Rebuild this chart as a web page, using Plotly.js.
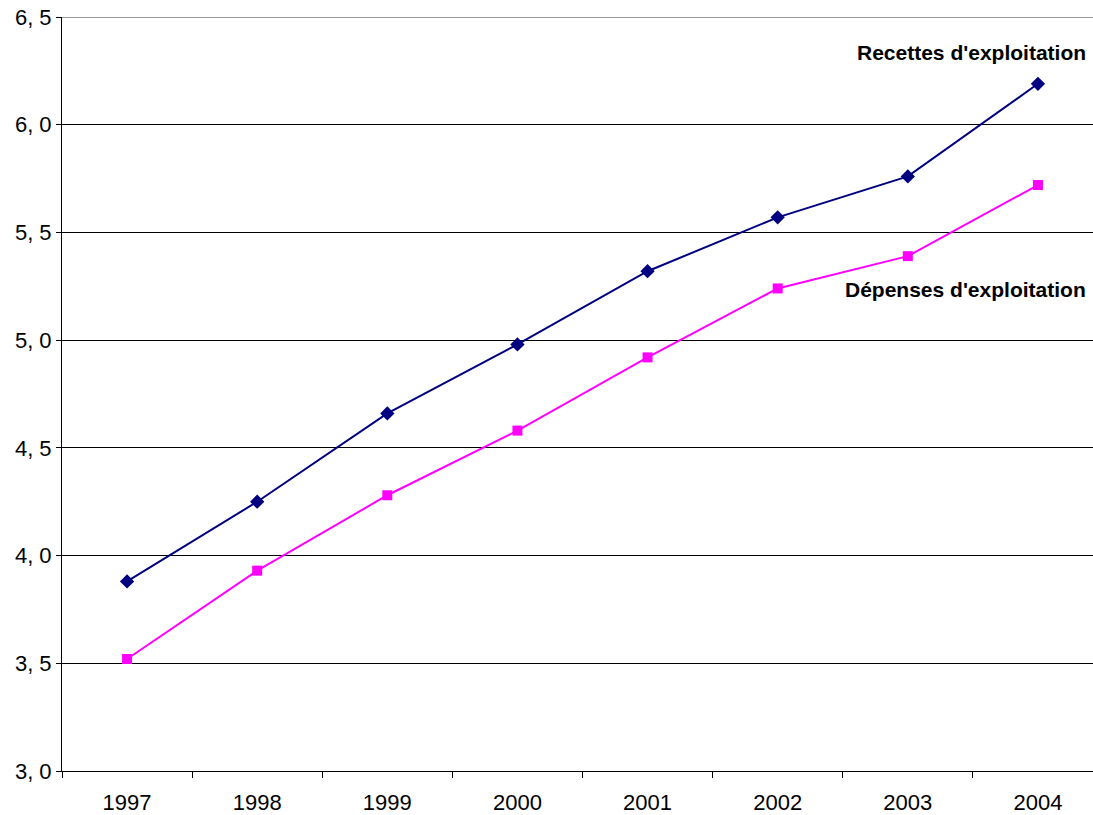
<!DOCTYPE html>
<html>
<head>
<meta charset="utf-8">
<script src="https://cdn.plot.ly/plotly-3.0.1.min.js"></script>
<style>
html,body{margin:0;padding:0;overflow:hidden;background:#fff;}
#chart{width:1103px;height:815px;}
</style>
</head>
<body>
<div id="chart"></div>
<script>
var years = ['1997','1998','1999','2000','2001','2002','2003','2004'];
var recettes = [3.88, 4.25, 4.66, 4.98, 5.32, 5.57, 5.76, 6.19];
var depenses = [3.52, 3.93, 4.28, 4.58, 4.92, 5.24, 5.39, 5.72];
var yTickVals = [3.0, 3.5, 4.0, 4.5, 5.0, 5.5, 6.0, 6.5];
var yTickText = ['3, 0','3, 5','4, 0','4, 5','5, 0','5, 5','6, 0','6, 5'];
var labelRecettes = "Recettes d'exploitation";
var labelDepenses = "Dépenses d'exploitation";

var tickFont = {family: 'Liberation Sans, Arial, sans-serif', size: 22, color: '#000'};

var traces = [
  {x: years, y: recettes, type: 'scatter', mode: 'lines+markers', name: labelRecettes,
   line: {color: '#000080', width: 2}, marker: {symbol: 'diamond', size: 11, color: '#000080'}},
  {x: years, y: depenses, type: 'scatter', mode: 'lines+markers', name: labelDepenses,
   line: {color: '#FF00FF', width: 2}, marker: {symbol: 'square', size: 10, color: '#FF00FF'}}
];

var layout = {
  width: 1103, height: 815,
  margin: {l: 62, r: 0, t: 17, b: 44},
  paper_bgcolor: '#fff', plot_bgcolor: '#fff',
  showlegend: false,
  font: {family: 'Liberation Sans, Arial, sans-serif', size: 21, color: '#000'},
  xaxis: {
    type: 'category', range: [-0.5, 7.5], tickson: 'boundaries',
    ticks: 'outside', ticklen: 6, tickcolor: '#000', tickwidth: 1,
    ticklabelstandoff: 12, tickfont: tickFont,
    showgrid: false, showline: true, linecolor: '#000', linewidth: 1,
    zeroline: false, fixedrange: true
  },
  yaxis: {
    range: [3, 6.5], tickvals: yTickVals, ticktext: yTickText,
    ticks: 'outside', ticklen: 5, tickcolor: '#000', tickfont: tickFont,
    showgrid: true, gridcolor: '#000', gridwidth: 1,
    showline: true, linecolor: '#000', linewidth: 1,
    zeroline: false, fixedrange: true
  },
  shapes: [
    {type: 'line', xref: 'paper', yref: 'y', x0: 0, x1: 1, y0: 6.5, y1: 6.5,
     line: {color: '#999', width: 2}}
  ],
  annotations: [
    {xref: 'paper', yref: 'y', x: 0.9856, y: 6.333, xanchor: 'right', yanchor: 'middle',
     text: '<b>' + labelRecettes + '</b>', showarrow: false,
     font: {family: 'Liberation Sans, Arial, sans-serif', size: 21, color: '#000'}},
    {xref: 'paper', yref: 'y', x: 0.9856, y: 5.233, xanchor: 'right', yanchor: 'middle',
     text: '<b>' + labelDepenses + '</b>', showarrow: false,
     font: {family: 'Liberation Sans, Arial, sans-serif', size: 21, color: '#000'}}
  ]
};

Plotly.newPlot('chart', traces, layout, {displayModeBar: false, staticPlot: true});
</script>
</body>
</html>
